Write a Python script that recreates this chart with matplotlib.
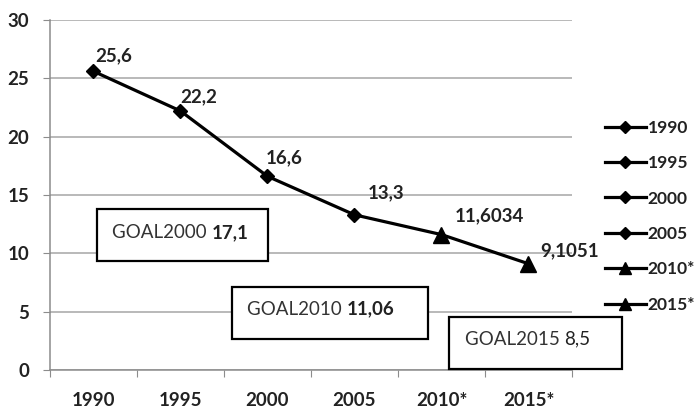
import matplotlib.pyplot as plt
from matplotlib.lines import Line2D
from matplotlib.patches import Rectangle

years = ['1990', '1995', '2000', '2005', '2010*', '2015*']
values = [25.6, 22.2, 16.6, 13.3, 11.6034, 9.1051]
value_labels = ['25,6', '22,2', '16,6', '13,3', '11,6034', '9,1051']
markers = ['D', 'D', 'D', 'D', '^', '^']

goal_names = ['GOAL2000 ', 'GOAL2010 ', 'GOAL2015 ']
goal_values = ['17,1', '11,06', '8,5']
goal_bold = [True, True, False]

plt.rcParams['font.family'] = ['Lato', 'DejaVu Sans']

fig = plt.figure(figsize=(6.99, 4.11), dpi=100)
ax = fig.add_axes([0.0715, 0.0998, 0.7468, 0.8516])

x = list(range(len(years)))
ax.plot(x, values, color='black', lw=2.3, zorder=3)
for xi, v, m in zip(x, values, markers):
    ms = 7.5 if m == 'D' else 11
    ax.plot(xi, v, marker=m, color='black', ms=ms, ls='none', zorder=4)

# подписи значений (сдвиг от точки, в пунктах)
offsets = [(1, 11.5), (0, 10), (-1.5, 13.7), (9.4, 15.8), (9.4, 13.7), (8.6, 9.4)]
for xi, v, lab, (dx, dy) in zip(x, values, value_labels, offsets):
    ax.annotate(lab, (xi, v), xytext=(dx, dy), textcoords='offset points',
                fontsize=13.5, fontweight='bold', color='#222222',
                ha='left', va='center')

ax.set_xlim(-0.5, 5.5)
ax.set_ylim(0, 30)
ax.set_yticks(range(0, 31, 5))
ax.yaxis.grid(True, color='#a6a6a6', lw=1.1)
ax.set_axisbelow(True)

ax.set_xticks([i - 0.5 for i in range(len(years) + 1)])
ax.set_xticklabels([])
ax.set_xticks(x, minor=True)
ax.set_xticklabels(years, minor=True)
ax.tick_params(axis='x', which='major', length=5, color='#8c8c8c', direction='out')
ax.tick_params(axis='x', which='minor', length=0, pad=16)
ax.tick_params(axis='y', length=5, color='#8c8c8c', pad=10)
for lab in ax.get_xticklabels(minor=True) + ax.get_yticklabels():
    lab.set_fontweight('bold')
    lab.set_fontsize(13.5)
    lab.set_color('#222222')

for side in ['top', 'right']:
    ax.spines[side].set_visible(False)
for side in ['left', 'bottom']:
    ax.spines[side].set_color('#8c8c8c')
    ax.spines[side].set_linewidth(1.1)

# рамки с целями
boxes = [(0.090, 0.311, 0.328, 0.150), (0.349, 0.088, 0.375, 0.148), (0.764, 0.003, 0.332, 0.148)]
text_pos = [(0.119, 0.393), (0.377, 0.174), (0.795, 0.088)]
for (bx, by, bw, bh), (tx, ty), name, val, b in zip(boxes, text_pos, goal_names, goal_values, goal_bold):
    ax.add_patch(Rectangle((bx, by), bw, bh, transform=ax.transAxes, fill=True,
                           facecolor='white', edgecolor='black', lw=1.6,
                           clip_on=False, zorder=5))
    t1 = ax.text(tx, ty, name, transform=ax.transAxes, fontsize=13.5,
                 color='#333333', va='center', ha='left', zorder=6)
    ax.annotate(val, xy=(1, 0), xycoords=t1, va='bottom', ha='left', fontsize=13.5,
                fontweight='bold' if b else 'normal', color='#222222', zorder=6)

handles = [Line2D([], [], color='black', lw=2.3, marker=m,
                  ms=6 if m == 'D' else 9) for m in markers]
leg = fig.legend(handles, years, loc='upper left', bbox_to_anchor=(0.853, 0.73),
                 frameon=False, fontsize=12.5, handlelength=2.35, handletextpad=0.12,
                 labelspacing=1.12, borderpad=0)
for t in leg.get_texts():
    t.set_fontweight('bold')
    t.set_color('#222222')

plt.savefig('out.png', dpi=100)
